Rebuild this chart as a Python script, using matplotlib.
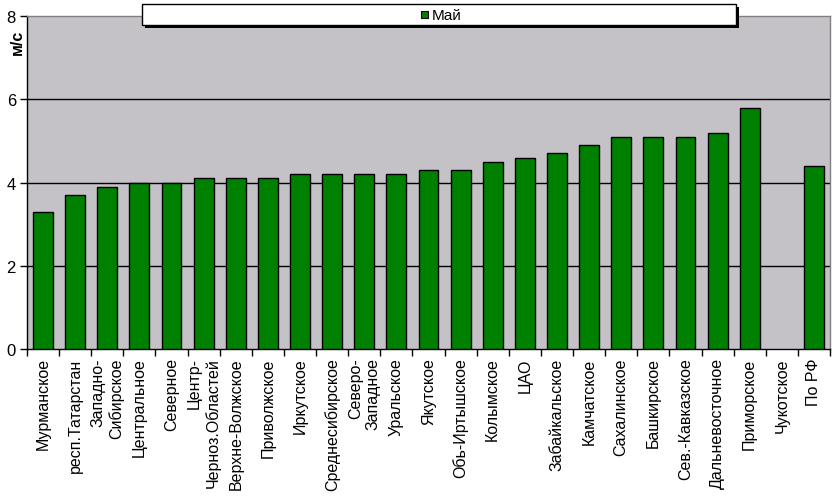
import numpy as np
import matplotlib
matplotlib.use("Agg")
import matplotlib.pyplot as plt
from matplotlib.patches import Rectangle

plt.rcParams['font.family'] = ['Liberation Sans', 'DejaVu Sans']

categories = ["Мурманское", "респ.Татарстан", "Западно-\nСибирское", "Центральное",
              "Северное", "Центр-\nЧерноз.Областей", "Верхне-Волжское", "Приволжское",
              "Иркутское", "Среднесибирское", "Северо-\nЗападное", "Уральское",
              "Якутское", "Обь-Иртышское", "Колымское", "ЦАО", "Забайкальское",
              "Камчатское", "Сахалинское", "Башкирское", "Сев.-Кавказское",
              "Дальневосточное", "Приморское", "Чукотское", "По РФ"]
may_values = [3.3, 3.7, 3.9, 4.0, 4.0, 4.1, 4.1, 4.1, 4.2, 4.2, 4.2, 4.2,
              4.3, 4.3, 4.5, 4.6, 4.7, 4.9, 5.1, 5.1, 5.1, 5.2, 5.8, np.nan, 4.4]
series_name = "Май"
y_ticks = [0, 2, 4, 6, 8]
y_label = "м/с"

W, H = 835, 502
fig = plt.figure(figsize=(W / 100, H / 100), dpi=100)
fig.patch.set_facecolor("white")
ax = fig.add_axes([27 / W, 1 - 350 / H, (830 - 27) / W, (350 - 17) / H])
ax.set_facecolor("#C4C2C6")

x = np.arange(len(categories))
ax.bar(x, may_values, width=0.62, color="#008000", edgecolor="black", linewidth=1.0, zorder=3)

ax.set_xlim(-0.5, len(categories) - 0.5)
ax.set_ylim(0, 8)
ax.set_yticks(y_ticks)
ax.set_yticklabels([str(v) for v in y_ticks], fontsize=12)
ax.tick_params(axis="y", length=5, width=1, color="black", pad=3)
for v in y_ticks[1:-1]:
    ax.axhline(v, color="black", linewidth=1.0, zorder=2)

ax.set_xticks(x)
ax.set_xticklabels(categories, rotation=90, fontsize=11.5, va="top", ha="center",
                   multialignment="right")
ax.tick_params(axis="x", which="major", length=0, pad=6)
ax.set_xticks(np.arange(-0.5, len(categories)), minor=True)
ax.tick_params(axis="x", which="minor", length=5, width=1, color="black")

ax.spines["left"].set_color("black")
ax.spines["bottom"].set_color("black")
ax.spines["top"].set_color("#808080")
ax.spines["right"].set_color("#808080")
for s in ax.spines.values():
    s.set_linewidth(1.0)

fig.text(17 / W, 1 - 42 / H, y_label, rotation=90, ha="center", va="center",
         fontsize=11.5, fontweight="bold")

# legend box with shadow
lx0, lx1, ly0, ly1 = 142, 736, 5, 26
fig.patches.append(Rectangle(((lx0 + 3) / W, 1 - (ly1 + 3) / H), (lx1 - lx0) / W, (ly1 - ly0) / H,
                             transform=fig.transFigure, facecolor="black", edgecolor="none", zorder=5))
fig.patches.append(Rectangle((lx0 / W, 1 - ly1 / H), (lx1 - lx0) / W, (ly1 - ly0) / H,
                             transform=fig.transFigure, facecolor="white", edgecolor="black",
                             linewidth=1.0, zorder=6))
fig.patches.append(Rectangle((421 / W, 1 - 19 / H), 7 / W, 7 / H, transform=fig.transFigure,
                             facecolor="#008000", edgecolor="black", linewidth=0.8, zorder=7))
fig.text(432 / W, 1 - 15.5 / H, series_name, ha="left", va="center", fontsize=11, zorder=8)

fig.savefig("out.png", dpi=100)
